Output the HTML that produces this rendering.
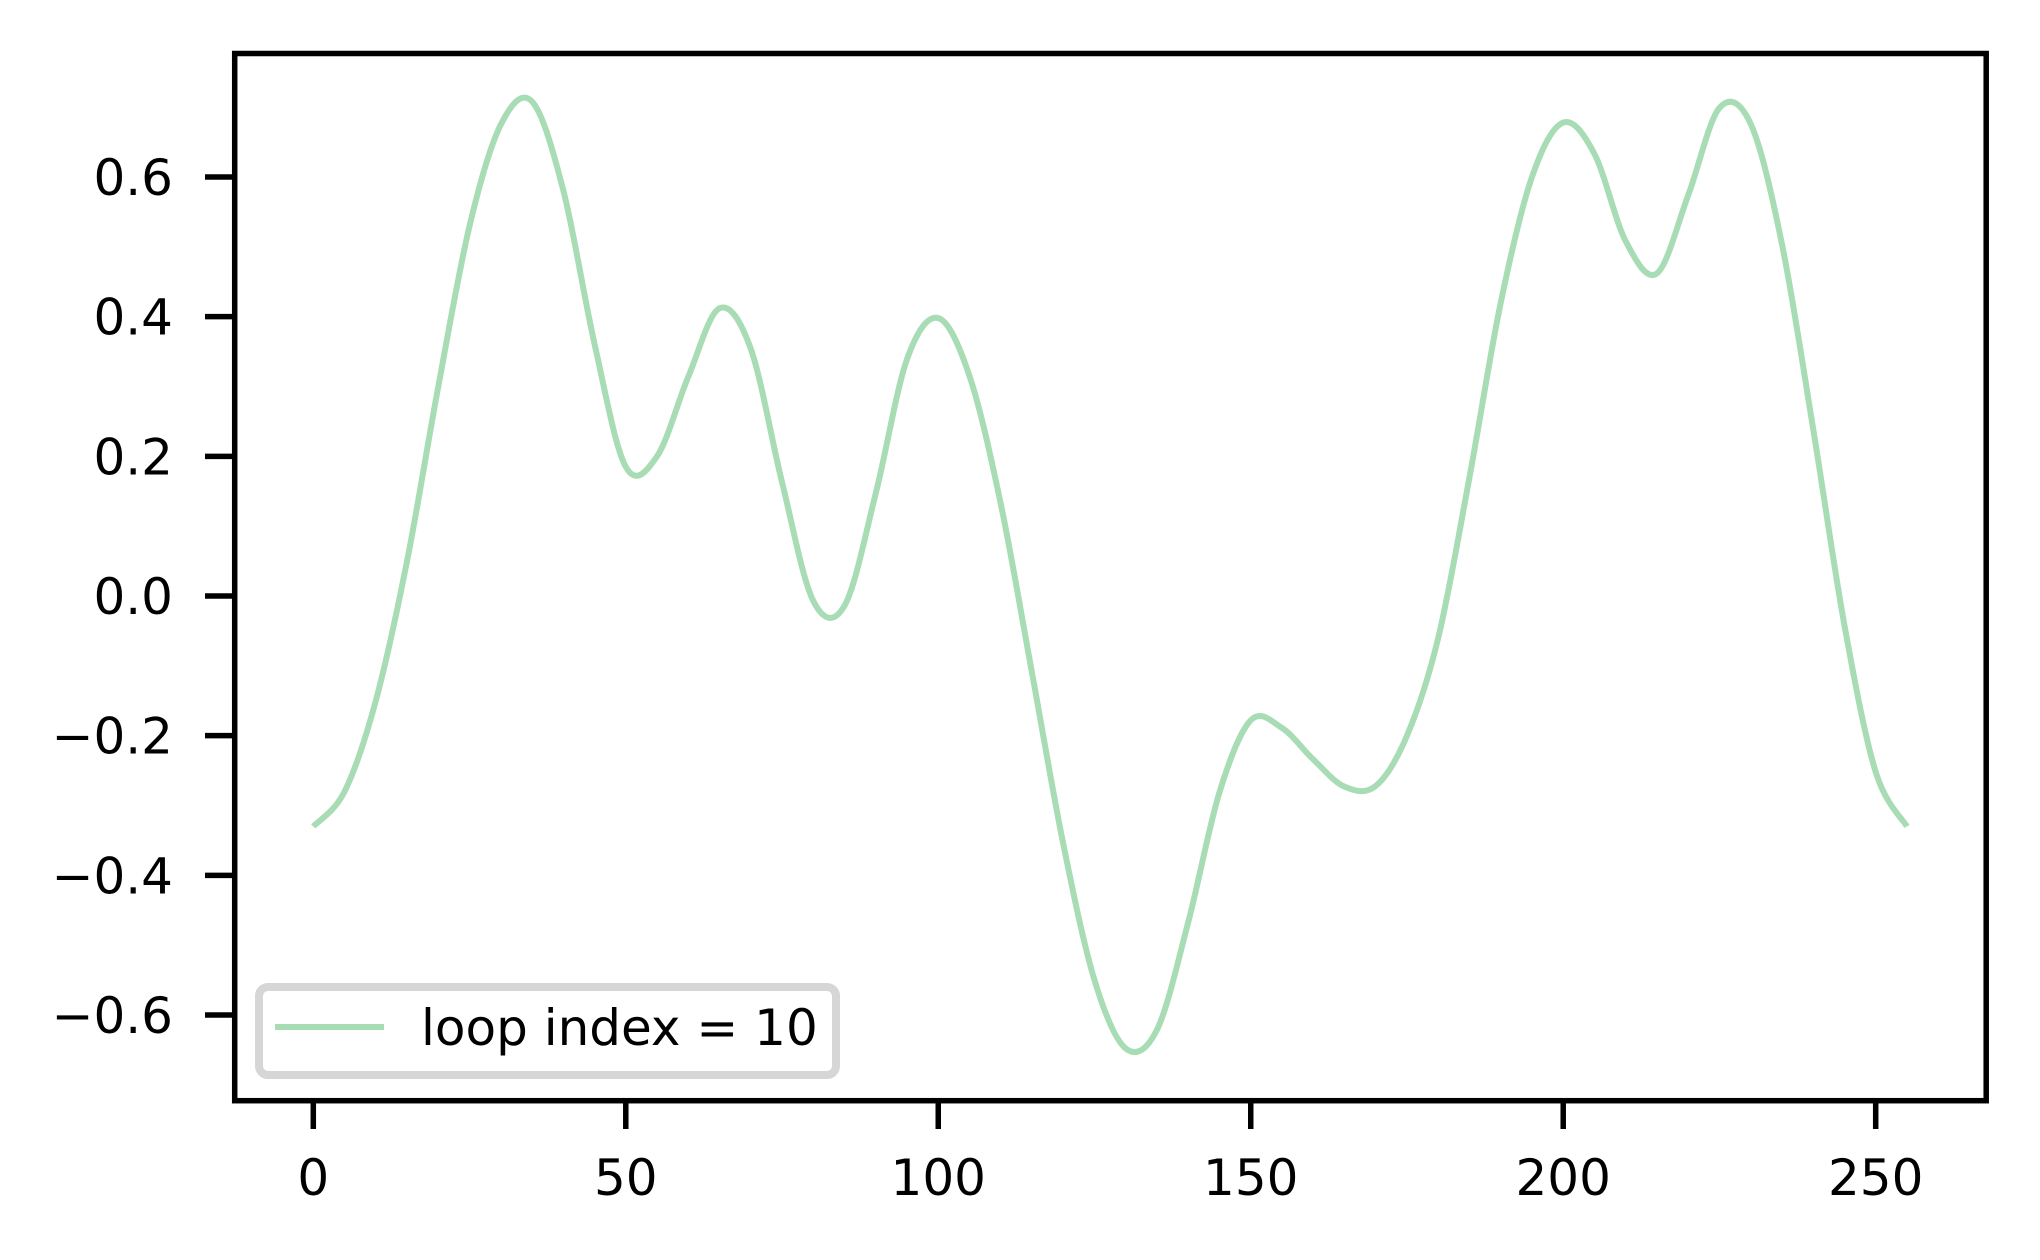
<!DOCTYPE html>
<html><head><meta charset="utf-8"><style>
html,body{margin:0;padding:0;background:#fff;}
svg{display:block;}
text{font-family:"DejaVu Sans","Liberation Sans",sans-serif;font-size:50px;fill:#000;}
</style></head><body>
<svg id="chart" width="2040" height="1260" viewBox="0 0 2040 1260">
<rect x="0" y="0" width="2040" height="1260" fill="#fff"/>
<g id="ticks"></g>
<path id="series" fill="none" stroke="#a8dcb5" stroke-width="6" stroke-linejoin="round"/>
<rect x="234.7" y="53.5" width="1751.5" height="1047.2" fill="none" stroke="#000" stroke-width="5.5"/>
<g>
<rect x="259" y="987" width="577" height="88" rx="9" fill="#fff" stroke="#d6d6d6" stroke-width="8"/>
<line x1="275" y1="1027" x2="384" y2="1027" stroke="#a8dcb5" stroke-width="6"/>
<text x="421" y="1045">loop index = 10</text>
</g>
</svg>
<script>
const xs=[0,5,10,15,20,25,30,35,40,45,50,55,60,65,70,75,80,85,90,95,100,105,110,115,120,125,130,135,140,145,150,155,160,165,170,175,180,185,190,195,200,205,210,215,220,225,230,235,240,245,250,255];
const ys=[-0.33,-0.28,-0.15,0.05,0.3,0.53,0.675,0.708,0.581,0.361,0.185,0.2,0.314,0.412,0.354,0.163,-0.007,-0.014,0.147,0.339,0.398,0.315,0.132,-0.11,-0.355,-0.55,-0.648,-0.621,-0.467,-0.281,-0.178,-0.189,-0.234,-0.273,-0.272,-0.2,-0.06,0.17,0.42,0.6,0.678,0.633,0.508,0.462,0.574,0.699,0.676,0.504,0.239,-0.042,-0.252,-0.33];
const xTicks=[0,50,100,150,200,250];
const yTicks=[-0.6,-0.4,-0.2,0.0,0.2,0.4,0.6];
const yTickLabels=["\u22120.6","\u22120.4","\u22120.2","0.0","0.2","0.4","0.6"];
const X=v=>313.3+v*6.2496;
const Y=v=>596-v*698.3;
const NS="http://www.w3.org/2000/svg";
const g=document.getElementById('ticks');
xTicks.forEach(t=>{
 const l=document.createElementNS(NS,'line');
 l.setAttribute('x1',X(t));l.setAttribute('x2',X(t));l.setAttribute('y1',1100);l.setAttribute('y2',1129);
 l.setAttribute('stroke','#000');l.setAttribute('stroke-width','5.5');
 
 
 g.appendChild(l);
 const tx=document.createElementNS(NS,'text');
 tx.setAttribute('x',X(t));tx.setAttribute('y',1195);tx.setAttribute('text-anchor','middle');
 tx.textContent=String(t);
 
 
 g.appendChild(tx);
});
yTicks.forEach((t,i)=>{
 const l=document.createElementNS(NS,'line');
 l.setAttribute('x1',205);l.setAttribute('x2',235);l.setAttribute('y1',Y(t));l.setAttribute('y2',Y(t));
 l.setAttribute('stroke','#000');l.setAttribute('stroke-width','5.5');
 
 
 g.appendChild(l);
 const tx=document.createElementNS(NS,'text');
 tx.setAttribute('x',173);tx.setAttribute('y',Y(t)+18);tx.setAttribute('text-anchor','end');
 tx.textContent=yTickLabels[i];
 
 
 g.appendChild(tx);
});
const P=xs.map((x,i)=>[X(x),Y(ys[i])]);
let d='M'+P[0][0]+','+P[0][1];
for(let i=0;i<P.length-1;i++){
 const p0=P[Math.max(0,i-1)],p1=P[i],p2=P[i+1],p3=P[Math.min(P.length-1,i+2)];
 const c1=[p1[0]+(p2[0]-p0[0])/6,p1[1]+(p2[1]-p0[1])/6];
 const c2=[p2[0]-(p3[0]-p1[0])/6,p2[1]-(p3[1]-p1[1])/6];
 d+=' C'+c1[0]+','+c1[1]+' '+c2[0]+','+c2[1]+' '+p2[0]+','+p2[1];
}
document.getElementById('series').setAttribute('d',d);
</script>
</body></html>
